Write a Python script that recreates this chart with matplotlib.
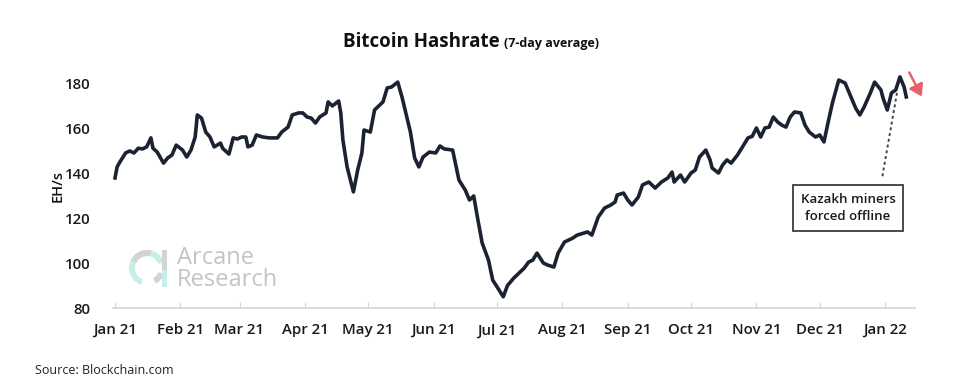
import matplotlib
matplotlib.use("Agg")
import matplotlib.pyplot as plt
import matplotlib.dates as mdates
from matplotlib.patches import Wedge, Rectangle, FancyArrowPatch
import numpy as np
import datetime as dt

# ---- data (day offset from 2021-01-01, 7-day average hashrate EH/s) ----
days = [0, 1, 2, 5, 7, 9, 11, 13, 15, 17, 18, 20, 23, 25, 27, 29, 32, 34, 36, 38,
        39, 41, 43, 45, 47, 50, 51, 54, 56, 58, 60, 62, 63, 65, 67, 70, 73, 77, 79, 82,
        84, 87, 89, 91, 93, 95, 97, 100, 101, 103, 106, 107, 108, 110, 113, 115, 117, 118, 121, 123,
        127, 129, 131, 134, 136, 140, 142, 144, 146, 149, 152, 154, 156, 160, 163, 166, 168, 170, 172, 174,
        177, 179, 181, 184, 186, 189, 192, 194, 196, 198, 200, 203, 205, 208, 210, 213, 217, 219, 224, 226,
        229, 232, 235, 237, 238, 241, 243, 245, 248, 250, 253, 256, 259, 262, 264, 265, 268, 270, 273, 275,
        277, 280, 282, 283, 286, 288, 290, 292, 295, 297, 300, 302, 304, 306, 308, 310, 312, 314, 316, 318,
        320, 322, 325, 327, 329, 332, 334, 336, 338, 340, 343, 346, 348, 351, 353, 355, 358, 360, 363, 364,
        366, 368, 370, 372, 374, 375]
hashrate = [137.8, 142.7, 144.4, 148.9, 149.8, 148.9, 151.0, 150.7, 151.6, 155.6, 151.0, 149.3, 144.4, 146.7, 148.0, 152.4, 150.2, 147.1, 150.2, 156.0,
            165.8, 164.4, 158.2, 156.0, 151.6, 153.3, 151.0, 148.4, 155.6, 155.1, 156.0, 156.0, 151.6, 152.4, 156.9, 156.0, 155.6, 155.6, 158.2, 160.4,
            165.8, 166.7, 166.7, 164.9, 164.4, 162.2, 164.9, 166.7, 171.6, 169.8, 172.0, 166.7, 154.7, 142.7, 131.6, 141.3, 148.9, 159.1, 158.2, 168.0,
            171.6, 177.8, 178.2, 180.4, 173.8, 158.2, 146.7, 142.7, 147.1, 149.3, 148.9, 152.0, 150.7, 150.2, 136.9, 132.4, 128.0, 129.8, 119.1, 108.9,
            101.3, 92.4, 89.5, 85.0, 90.0, 93.3, 96.0, 97.8, 100.4, 101.3, 104.4, 100.0, 99.1, 98.2, 104.4, 109.3, 111.1, 112.4, 113.8, 112.4,
            120.4, 124.4, 125.8, 127.1, 130.2, 131.1, 128.0, 125.8, 129.3, 134.7, 136.0, 133.3, 136.0, 137.8, 140.4, 136.0, 139.1, 136.0, 140.0, 141.3,
            147.1, 150.2, 145.8, 142.2, 140.0, 143.6, 145.8, 144.4, 148.0, 151.0, 155.6, 156.3, 160.0, 156.0, 160.0, 160.4, 164.9, 162.7, 161.3, 160.4,
            164.9, 167.1, 166.7, 161.3, 158.2, 156.0, 156.9, 153.8, 162.7, 171.1, 181.3, 180.0, 175.6, 168.9, 165.8, 169.3, 175.6, 180.4, 176.9, 173.3,
            168.0, 175.6, 176.9, 182.7, 178.2, 173.8]
y_ticks = [80, 100, 120, 140, 160, 180]
title_main = "Bitcoin Hashrate"
title_sub = "(7-day average)"
y_label = "EH/s"
source = "Source: Blockchain.com"
note = "Kazakh miners\nforced offline"
brand = "Arcane\nResearch"

base = dt.datetime(2021, 1, 1)
dates = [base + dt.timedelta(days=d) for d in days]

plt.rcParams['font.family'] = ['Open Sans', 'DejaVu Sans']
W, H = 954, 381
fig = plt.figure(figsize=(W / 100, H / 100), dpi=100)

def fx(px):
    return px / W
def fy(py):
    return 1 - py / H

# overlay for watermark in pixel coords (drawn beneath the chart)
ov = fig.add_axes([0, 0, 1, 1], zorder=0)
ov.set_xlim(0, W)
ov.set_ylim(H, 0)
ov.axis('off')
cx, cy, r = 147, 268, 18
ov.add_patch(Wedge((cx, cy), r, 110, 340, width=6, fc='#c6efe9', ec='none'))
ov.add_patch(Wedge((cx, cy), r, 205, 285, width=6, fc='#d4d4d4', ec='none'))
ov.add_patch(Wedge((cx, cy), r, 20, 60, width=6, fc='#d4d4d4', ec='none'))
ov.add_patch(Rectangle((162, 250), 5, 37, fc='#d4d4d4', ec='none'))
ov.add_patch(Rectangle((162, 270), 5, 17, fc='#c6efe9', ec='none'))
ov.text(177, 269, brand, ha='left', va='center', fontsize=17, color='#c4c4c4',
        fontweight='medium', linespacing=0.9)

# main axes
x0 = base - dt.timedelta(days=1)
x1 = base + dt.timedelta(days=379)
ax_left, ax_right = 112.9, 914.7
ax_top, ax_bot = 71.75, 308.0
ax = fig.add_axes([fx(ax_left), fy(ax_bot), (ax_right - ax_left) / W, (ax_bot - ax_top) / H], zorder=1)
ax.patch.set_alpha(0)
ax.plot(dates, hashrate, color='#1b2231', lw=2.6, solid_joinstyle='round', zorder=3)
ax.set_xlim(x0, x1)
ax.set_ylim(80, 185)
ax.set_yticks(y_ticks)
for s in ['top', 'right', 'left']:
    ax.spines[s].set_visible(False)
ax.spines['bottom'].set_color('#d4d4d4')
ax.spines['bottom'].set_linewidth(1.2)
ax.xaxis.set_major_locator(mdates.MonthLocator())
ax.xaxis.set_major_formatter(mdates.DateFormatter('%b %y'))
ax.tick_params(axis='x', length=4, direction='in', color='#d4d4d4', pad=11,
               labelsize=10.8, labelcolor='#1a1a1a')
ax.tick_params(axis='y', length=0, pad=16, labelsize=10.8, labelcolor='#1a1a1a')
for lab in ax.get_xticklabels() + ax.get_yticklabels():
    lab.set_fontweight('semibold')

# annotation box
ax.text(base + dt.timedelta(days=347.4), 124.4, note, ha='center', va='center',
        fontsize=9.5, fontweight='semibold', color='#1a1a1a', linespacing=1.4,
        bbox=dict(boxstyle='square,pad=0.6', fc='white', ec='#2a2a2a', lw=1.2), zorder=5)
ax.plot([base + dt.timedelta(days=370.6), base + dt.timedelta(days=363.5)],
        [175.6, 137.5], ls=(0, (1.5, 1.5)), color='#444444', lw=1.4, zorder=4)

# titles and labels
fig.text(fx(500), fy(42), title_main, ha='right', va='center', fontsize=13.5,
         fontweight='bold', color='#111111')
fig.text(fx(504), fy(43), title_sub, ha='left', va='center', fontsize=9,
         fontweight='bold', color='#111111')
fig.text(fx(58), fy(186), y_label, rotation=90, ha='center', va='center', fontsize=10.5,
         fontweight='semibold', color='#111111')
fig.text(fx(35), fy(371), source, ha='left', va='center', fontsize=9, color='#222222')

# red arrow
arr = FancyArrowPatch((fx(908), fy(70)), (fx(923), fy(99)), transform=fig.transFigure,
                      arrowstyle='-|>,head_length=7,head_width=4.5', color='#e8606a', lw=1.8)
fig.patches.append(arr)

fig.savefig('out.png', dpi=100)
